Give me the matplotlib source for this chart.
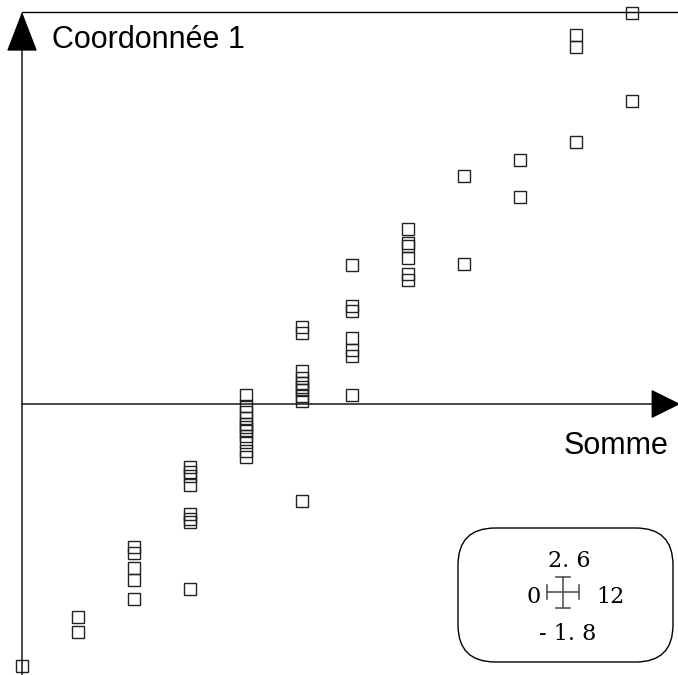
import matplotlib
matplotlib.use('Agg')
import matplotlib.pyplot as plt
from matplotlib.patches import FancyBboxPatch

# x = "Somme", y = "Coordonnée 1", one list per column of points
col_x = [0, 1.1, 2.2, 3.3, 4.4, 5.5, 6.5, 7.6, 8.7, 9.8, 10.9, 12]
col_y = [
    [-1.74],
    [-1.41, -1.51],
    [-0.95, -0.99, -1.09, -1.17, -1.29],
    [-0.42, -0.45, -0.48, -0.54, -0.73, -0.76, -0.78, -1.23],
    [0.06, -0.01, -0.05, -0.09, -0.13, -0.15, -0.18, -0.21, -0.25, -0.31, -0.35],
    [0.51, 0.47, 0.22, 0.17, 0.14, 0.11, 0.09, 0.05, 0.02, -0.64],
    [0.92, 0.65, 0.62, 0.44, 0.36, 0.32, 0.06],
    [1.16, 1.07, 1.05, 0.97, 0.86, 0.82],
    [1.51, 0.93],
    [1.62, 1.37],
    [2.45, 2.37, 1.74],
    [2.59, 2.01],
]
x_range = ['0', '12']
y_range = ['2. 6', '- 1. 8']
x_label = 'Somme'
y_label = 'Coordonnée 1'

W, H = 678, 675
fig = plt.figure(figsize=(W / 100, H / 100), dpi=100)
ax = fig.add_axes([0, 0, 1, 1])
ax.set_xlim(-0.433, 12.906)
ax.set_ylim(-1.797, 2.679)
ax.axis('off')


def px(x, y):
    # pixel position -> axes fraction (axes fill the figure)
    return x / W, 1 - y / H


xs, ys = [], []
for x, vals in zip(col_x, col_y):
    xs += [x] * len(vals)
    ys += vals
ax.plot(xs, ys, 's', ms=8, mfc='none', mec='#222222', mew=1.0, clip_on=False)

# frame line on top and the two axes with arrow heads
ax.plot([0, 13], [2.6, 2.6], color='black', lw=1, clip_on=False)
ax.annotate('', xy=(12.95, 0), xytext=(0, 0), annotation_clip=False,
            arrowprops=dict(arrowstyle='-|>,head_length=0.95,head_width=0.47',
                            mutation_scale=20, color='black', lw=1,
                            shrinkA=0, shrinkB=0))
ax.annotate('', xy=(0, 2.6), xytext=(0, -1.85), annotation_clip=False,
            arrowprops=dict(arrowstyle='-|>,head_length=1.3,head_width=0.5',
                            mutation_scale=20, color='black', lw=1,
                            shrinkA=0, shrinkB=0))

ax.text(*px(52, 40), y_label, transform=ax.transAxes, fontsize=22,
        family='Liberation Sans', ha='left', va='center')
ax.text(*px(668, 446), x_label, transform=ax.transAxes, fontsize=22,
        family='Liberation Sans', ha='right', va='center')

# scale box
x0, y0 = px(458, 662)
x1, y1 = px(673, 528)
box = FancyBboxPatch((x0, y0), x1 - x0, y1 - y0, transform=ax.transAxes,
                     boxstyle='round,pad=0,rounding_size=0.055',
                     fc='white', ec='black', lw=1)
ax.add_patch(box)
lab = dict(transform=ax.transAxes, fontsize=16, family='DejaVu Serif', va='center')
ax.text(*px(569, 561), y_range[0], ha='center', **lab)
ax.text(*px(568, 634), y_range[1], ha='center', **lab)
ax.text(*px(541, 597), x_range[0], ha='right', **lab)
ax.text(*px(596, 597), x_range[1], ha='left', **lab)

cross = dict(transform=ax.transAxes, color='#555555', lw=1.2)
ax.plot(*zip(px(547, 592), px(579, 592)), **cross)
ax.plot(*zip(px(547, 585), px(547, 599)), **cross)
ax.plot(*zip(px(579, 585), px(579, 599)), **cross)
ax.plot(*zip(px(563, 577), px(563, 608)), **cross)
ax.plot(*zip(px(556, 577), px(570, 577)), **cross)
ax.plot(*zip(px(556, 608), px(570, 608)), **cross)

fig.savefig('out.png', dpi=100)
